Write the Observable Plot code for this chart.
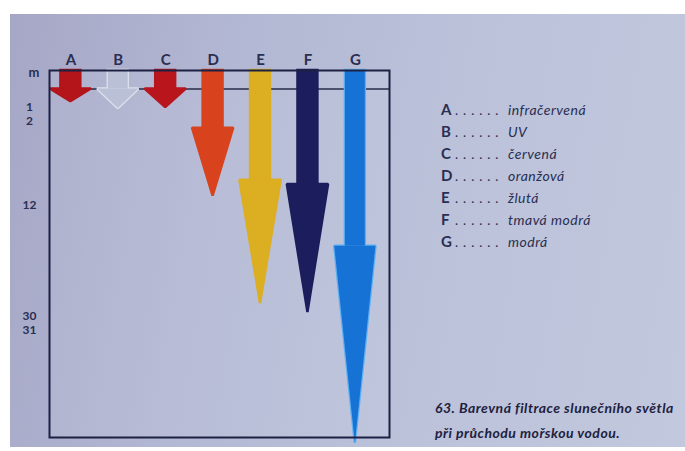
<!DOCTYPE html>
<html><head><meta charset="utf-8">
<script src="https://cdn.jsdelivr.net/npm/d3@7"></script>
<script src="https://cdn.jsdelivr.net/npm/@observablehq/plot@0.6"></script>
<style>
html,body{margin:0;padding:0;background:#fff;width:685px;height:451px;overflow:hidden;}
#page{position:absolute;left:10px;top:14px;width:675px;height:433px;
  background:linear-gradient(100deg,#a6a7c6 0%,#b2b7d3 30%,#bac1d9 60%,#c2c9de 100%);}
#chart{position:absolute;left:0;top:0;}
#key{position:absolute;left:441px;top:98px;font-family:Lato,sans-serif;color:#2a2e52;}
.row{height:22px;line-height:22px;white-space:nowrap;}
.row .l{display:inline-block;width:14px;font-weight:700;font-size:15px;}
.row .d{display:inline-block;width:53px;font-size:13px;letter-spacing:5px;}
.row .n{font-style:italic;font-size:14px;letter-spacing:0.5px;}
#caption{position:absolute;left:435px;top:395px;font-family:Lato,sans-serif;font-weight:700;font-style:italic;
  font-size:14px;letter-spacing:0.5px;line-height:25px;color:#1e2140;white-space:nowrap;}
</style></head>
<body>
<div id="page"></div>
<div id="chart"></div>
<div id="key"></div>
<div id="caption"></div>
<script>
// ---- data ----
const letters = ["A", "B", "C", "D", "E", "F", "G"];
const colourNames = ["infračervená", "UV", "červená", "oranžová", "žlutá", "tmavá modrá", "modrá"];
const neckDepth = [0.5, 0.5, 0.5, 2.8, 9.0, 9.5, 18.6];     // depth where the arrow head begins
const tipDepth  = [0.84, 1.07, 1.0, 10.9, 27.9, 29.35, 40.5]; // depth of the arrow tip
const arrowFill = ["#b3151b", "#bac1d7", "#b8161c", "#d8431d", "#dcae22", "#1c1d5c", "#1672d4"];
const arrowEdge = ["#b3151b", "#dde1ec", "#b8161c", "#d8431d", "#dcae22", "#1c1d5c", "#5db1f3"];
const depthTicks = [1, 2, 12, 30, 31];
const surfaceDepth = [0.5];
const unitLabel = ["m"];
const captionLines = ["63. Barevná filtrace slunečního světla", "při průchodu mořskou vodou."];

// ---- derived tables ----
const shaftW = 0.42, headW = 0.87;
const arrows = letters.map((l, i) => ({i, letter: l, neck: neckDepth[i], tip: tipDepth[i], fill: arrowFill[i], edge: arrowEdge[i]}));
const heads = arrows.flatMap(a => [
  {key: a.letter, x: a.i - headW / 2, y1: a.neck, y2: a.neck, fill: a.fill, edge: a.edge},
  {key: a.letter, x: a.i,             y1: a.neck, y2: a.tip,  fill: a.fill, edge: a.edge},
  {key: a.letter, x: a.i + headW / 2, y1: a.neck, y2: a.neck, fill: a.fill, edge: a.edge}
]);
const shaftX1 = d => d.i - shaftW / 2, shaftX2 = d => d.i + shaftW / 2;

const chart = Plot.plot({
  width: 400, height: 451,
  marginLeft: 49, marginRight: 11, marginTop: 70, marginBottom: 14,
  style: {background: "transparent", overflow: "visible", fontFamily: "Lato, sans-serif"},
  x: {type: "linear", domain: [-0.45, 6.72]},
  y: {type: "linear", domain: [0, 1, 2, 12, 30, 31, 40], range: [70, 107, 121, 205, 316, 330, 437]},
  color: {type: "identity"},
  marks: [
    Plot.frame({fill: "#ffffff", fillOpacity: 0.08}),
    Plot.ruleY(surfaceDepth, {stroke: "#272b4a", strokeWidth: 1.5}),
    // halo layer
    Plot.rect(arrows, {x1: shaftX1, x2: shaftX2, y1: 0, y2: "neck", fill: "edge", stroke: "edge", strokeWidth: 2.5}),
    Plot.areaY(heads, {x: "x", y1: "y1", y2: "y2", z: "key", fill: "edge", stroke: "edge", strokeWidth: 2.5, strokeLinejoin: "miter"}),
    // fill layer
    Plot.rect(arrows, {x1: shaftX1, x2: shaftX2, y1: 0, y2: "neck", fill: "fill"}),
    Plot.areaY(heads, {x: "x", y1: "y1", y2: "y2", z: "key", fill: "fill"}),
    Plot.frame({stroke: "#1c2042", strokeWidth: 2}),
    Plot.axisX({anchor: "top", ticks: d3.range(letters.length), tickFormat: i => letters[i], tickSize: 0, tickPadding: 6,
      fontSize: 15, fontWeight: 700, color: "#2a2e50", label: null}),
    Plot.axisY({ticks: depthTicks, tickSize: 0, tickPadding: 20, textAnchor: "middle", tickFormat: d => String(d),
      fontSize: 12, fontWeight: 700, color: "#2a2e50", label: null}),
    Plot.text(unitLabel, {text: d => d, frameAnchor: "top-left", dx: -21, dy: -3, fontSize: 13, fontWeight: 700, fill: "#2a2e50"})
  ]
});
document.getElementById("chart").appendChild(chart);

const key = document.getElementById("key");
letters.forEach((l, i) => {
  const row = document.createElement("div");
  row.className = "row";
  row.innerHTML = `<span class="l">${l}</span><span class="d">......</span><span class="n">${colourNames[i]}</span>`;
  key.appendChild(row);
});
document.getElementById("caption").innerHTML = captionLines.join("<br>");
</script>
</body></html>
